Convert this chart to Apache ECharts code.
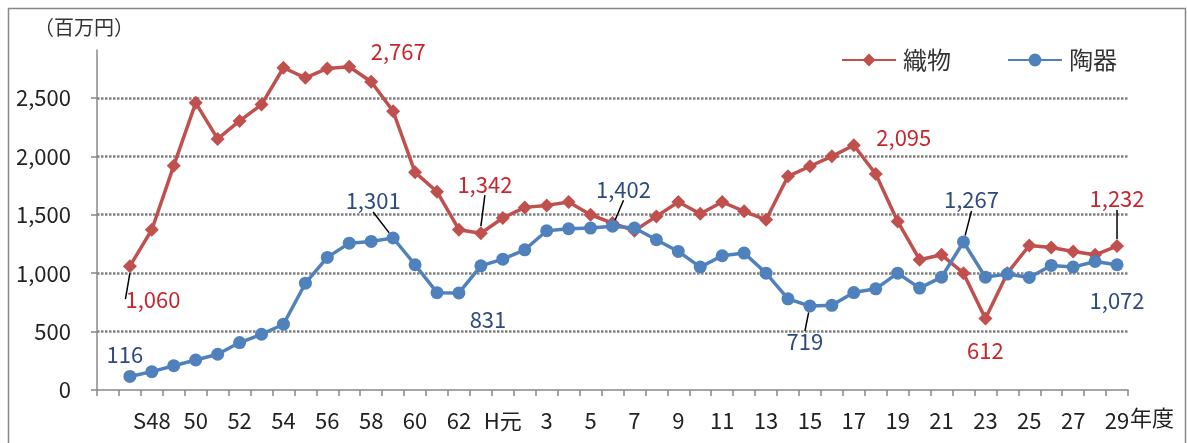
<!DOCTYPE html>
<html><head><meta charset="utf-8">
<script src="https://cdn.jsdelivr.net/npm/echarts@6/dist/echarts.min.js"></script>
<style>html,body{margin:0;padding:0;background:#fff}#c{width:1187px;height:443px}</style>
</head><body><div id="c"></div>
<script>
// Fiscal years (index 0 is an empty leading category)
const categories = ['', 'S47','S48','49','50','51','52','53','54','55','56','57','58','59','60','61','62','63',
  'H元','2','3','4','5','6','7','8','9','10','11','12','13','14','15','16','17','18','19','20','21','22','23','24','25','26','27','28','29'];
// Tick labels shown on the axis (every other category)
const tickLabels = ['S48','50','52','54','56','58','60','62','H元','3','5','7','9','11','13','15','17','19','21','23','25','27','29'];
// 織物 (textiles), million yen
const textiles = [null, 1060,1372,1920,2458,2149,2303,2443,2758,2672,2752,2767,2638,2386,1863,1697,1372,1342,
  1472,1563,1580,1609,1500,1429,1363,1486,1609,1509,1609,1529,1457,1829,1915,2000,2095,1849,1443,1115,1157,1000,612,1000,1237,1220,1186,1157,1232];
// 陶器 (pottery), million yen
const pottery = [null, 116,157,208,257,306,406,477,563,914,1135,1257,1272,1301,1072,833,831,1063,
  1120,1200,1363,1380,1386,1402,1386,1286,1186,1052,1149,1172,1000,780,719,725,834,866,1000,872,966,1267,966,992,963,1066,1052,1100,1072];
// Indices that carry a value label
const textilesLabeled = [1, 11, 17, 34, 40, 46];
const potteryLabeled = [1, 13, 16, 23, 32, 39, 46];

// label offsets (px) and whether a leader line is drawn
const labelStyle = {
  0: {1:[23,33,true], 11:[49,-15,false], 17:[4,-49,true], 34:[50,-8,false], 40:[0,32,false], 46:[0,-47,true]},
  1: {1:[-5,-22,false], 13:[-20,-37,true], 16:[29,27,false], 23:[11,-37,true], 32:[-5,36,true], 39:[8,-42,true], 46:[0,36,false]}
};
const RED = '#C0504D', BLUE = '#4F81BD', RED_T = '#C8252C', BLUE_T = '#2F4A7E';
const FONT = '"Noto Sans CJK JP", "Noto Sans", sans-serif';
const fmt = v => String(v).replace(/\B(?=(\d{3})+(?!\d))/g, ',');

function mk(values, labeled, sIdx, tcolor) {
  return values.map((v, i) => {
    if (labeled.indexOf(i) < 0) return v;
    const st = labelStyle[sIdx][i];
    return {
      value: v,
      label: {show: true, position: 'inside', color: tcolor, fontSize: 22, fontFamily: FONT,
        textBorderWidth: 0, textBorderColor: 'transparent', textShadowBlur: 0,
        formatter: p => fmt(p.value)},
      labelLine: {show: st[2], lineStyle: {color: '#000', width: 1.5}}
    };
  });
}

const chart = echarts.init(document.getElementById('c'), null, {renderer: 'canvas'});
chart.setOption({
  animation: false,
  backgroundColor: '#fff',
  grid: {left: 97, right: 59, top: 50, bottom: 53, containLabel: false},
  legend: {
    left: 836, top: 43, itemWidth: 54, itemHeight: 16, itemGap: 56,
    textStyle: {fontSize: 24, color: '#333', fontFamily: FONT, padding: [0,0,0,2]},
    data: ['織物', '陶器']
  },
  xAxis: {
    type: 'category', data: categories, boundaryGap: true,
    axisLine: {lineStyle: {color: '#888', width: 1.5}},
    axisTick: {show: true, interval: 0, length: 6, inside: false, lineStyle: {color: '#888', width: 1.5}},
    axisLabel: {
      interval: (i, v) => i > 0 && i % 2 === 0,
      formatter: (v, i) => tickLabels[i / 2 - 1] || '',
      fontSize: 22, color: '#222', fontFamily: FONT, margin: 20
    }
  },
  yAxis: {
    type: 'value', min: 0, max: 2910, interval: 500,
    axisLine: {show: true, lineStyle: {color: '#888', width: 1.5}},
    axisTick: {show: true, length: 6, lineStyle: {color: '#888', width: 1.5}},
    axisLabel: {fontSize: 22, color: '#222', fontFamily: FONT, margin: 26, showMaxLabel: false,
      formatter: v => (v % 500 === 0 ? fmt(v) : '')},
    splitLine: {show: true, showMinLine: false, showMaxLine: false,
      lineStyle: {color: '#808080', width: 2.5, type: [2.5, 1.5]}}
  },
  series: [
    {name: '織物', type: 'line', data: mk(textiles, textilesLabeled, 0, RED_T), symbol: 'diamond', symbolSize: 14,
      itemStyle: {color: RED}, lineStyle: {color: RED, width: 3.5}, z: 3,
      labelLayout: p => { const s = labelStyle[0][p.dataIndex]; return s ? {dx: s[0], dy: s[1]} : {}; }},
    {name: '陶器', type: 'line', data: mk(pottery, potteryLabeled, 1, BLUE_T), symbol: 'circle', symbolSize: 13,
      itemStyle: {color: BLUE}, lineStyle: {color: BLUE, width: 3.5}, z: 4,
      labelLayout: p => { const s = labelStyle[1][p.dataIndex]; return s ? {dx: s[0], dy: s[1]} : {}; }}
  ],
  graphic: [
    {type: 'rect', left: 6, top: 6, shape: {width: 1177, height: 460}, style: {fill: null, stroke: '#888', lineWidth: 1.5}, silent: true},
    {type: 'text', left: 34, top: 17, style: {text: '（百万円）', font: '20px ' + FONT, fill: '#333'}},
    {type: 'text', left: 1130, top: 407, style: {text: '年度', font: '22px ' + FONT, fill: '#222'}}
  ]
});
</script></body></html>
